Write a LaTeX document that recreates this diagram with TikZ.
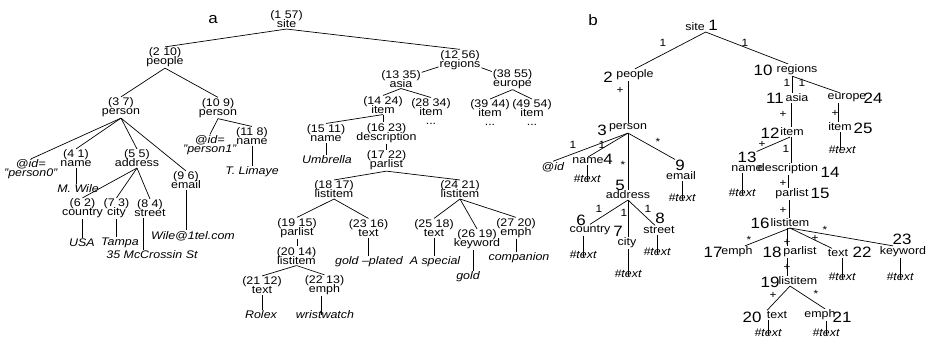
\documentclass[tikz,border=0pt]{standalone}
\usepackage{fontspec}
\setmainfont{Liberation Sans}[FakeStretch=1.13]
\lineskiplimit=-100pt
\begin{document}
\begin{tikzpicture}[x=1pt,y=-1pt]
\tikzset{
  tn/.style={align=center, inner sep=0.8pt, font=\fontsize{11}{9}\selectfont},
  val/.style={inner sep=0.8pt, font=\fontsize{11}{9}\selectfont\itshape},
  tag/.style={inner sep=0.8pt, font=\fontsize{11}{10}\selectfont},
  bignum/.style={inner sep=0pt, font=\fontsize{15}{15}\selectfont},
  elab/.style={inner sep=0pt, font=\fontsize{10.5}{10}\selectfont},
  panel/.style={inner sep=0pt, font=\fontsize{15}{15}\selectfont},
  link/.style={draw, line width=0.7pt, black}
}
\useasboundingbox (0,0) rectangle (931,338);

% ---------------- panel a: numbered document tree ----------------
\node[panel] (pa) at (213,20) {a};

\node[tn] (a1)  at (286.5,19.5) {(1 57)\\site};
\node[tn] (a2)  at (165,57.5)   {(2 10)\\people};
\node[tn] (a12) at (460,60)     {(12 56)\\regions};
\node[tn] (a3)  at (121,107.5)  {(3 7)\\person};
\node[tn] (a10) at (218,108)    {(10 9)\\person};
\node[tn] (aid0) at (31,169.5)  {@\textit{id}=\\\textit{"person0"}};
\node[tn] (a4)  at (76,158.5)   {(4 1)\\name};
\node[tn] (a5)  at (137,158.5)  {(5 5)\\address};
\node[tn] (a9)  at (186,180.5)  {(9 6)\\email};
\node[val] (vwile) at (78,189)  {M. Wile};
\node[tn] (a6)  at (82.5,208.5) {(6 2)\\country};
\node[tn] (a7)  at (116.5,208.5){(7 3)\\city};
\node[tn] (a8)  at (150,208.5)  {(8 4)\\street};
\node[val] (vusa)    at (82,243)  {USA};
\node[val] (vtampa)  at (120,243) {Tampa};
\node[val] (vstreet) at (152,255) {35 McCrossin St};
\node[val] (vmail)   at (193,236) {Wile@1tel.com};
\node[tn] (aid1) at (210,145)   {@\textit{id}=\\\textit{"person1"}};
\node[tn] (a11) at (252,136)    {(11 8)\\name};
\node[val] (vlimaye) at (252,172) {T. Limaye};

\node[tn] (a13) at (401,79)     {(13 35)\\asia};
\node[tn] (a38) at (512.5,79)   {(38 55)\\europe};
\node[tn] (a14) at (383,105)    {(14 24)\\item};
\node[tn] (a28) at (431,111.5)  {(28 34)\\item\\...};
\node[tn] (a39) at (490,113)    {(39 44)\\item\\...};
\node[tn] (a49) at (532,113)    {(49 54)\\item\\...};
\node[tn] (a15) at (326,133)    {(15 11)\\name};
\node[tn] (a16) at (386.5,133)  {(16 23)\\description};
\node[val] (vumb) at (327,160)  {Umbrella};
\node[tn] (a17) at (386.5,160.5){(17 22)\\parlist};
\node[tn] (a18) at (334,189.5)  {(18 17)\\listitem};
\node[tn] (a24) at (460,189.5)  {(24 21)\\listitem};
\node[tn] (a19) at (297,228)    {(19 15)\\parlist};
\node[tn] (a23) at (368.5,228)  {(23 16)\\text};
\node[val] (vgp) at (369,262)   {gold –plated};
\node[tn] (a20) at (296.5,256)  {(20 14)\\listitem};
\node[tn] (a21) at (262,285.5)  {(21 12)\\text};
\node[tn] (a22) at (324.5,285.5){(22 13)\\emph};
\node[val] (vrolex) at (261,315){Rolex};
\node[val] (vwrist) at (325,315){wristwatch};
\node[tn] (a25) at (434,228)    {(25 18)\\text};
\node[tn] (a26) at (477,239.5)  {(26 19)\\keyword};
\node[tn] (a27) at (516,228)    {(27 20)\\emph};
\node[val] (vspecial) at (435,262) {A special};
\node[val] (vgold)    at (468,277) {gold};
\node[val] (vcomp)    at (519,258) {companion};

\draw[link] (a1.south) -- (a2.north);
\draw[link] (a1.south) -- (a12.north);
\draw[link] (a2.south) -- (a3.north);
\draw[link] (a2.south) -- (a10.north);
\draw[link] (a3.south) -- (aid0.north);
\draw[link] (a3.south) -- (a4.north);
\draw[link] (a3.south) -- (a5.north);
\draw[link] (a3.south) -- (a9.north);
\draw[link] (a4.south) -- (a4.south |- vwile.north);
\draw[link] (a5.south) -- (a6.north);
\draw[link] (a5.south) -- (a7.north);
\draw[link] (a5.south) -- (a8.north);
\draw[link] (a6.south) -- (a6.south |- vusa.north);
\draw[link] (a7.south) -- (a7.south |- vtampa.north);
\draw[link] ([xshift=-7pt]a8.south) -- ([xshift=-7pt]a8.south |- vstreet.north);
\draw[link] (a9.south) -- (a9.south |- vmail.north);
\draw[link] (a10.south) -- (aid1.north);
\draw[link] (a10.south) -- (a11.north);
\draw[link] (a11.south) -- (a11.south |- vlimaye.north);

\draw[link] (a12) -- (a13);
\draw[link] (a12) -- (a38);
\draw[link] (a13.south) -- (a14.north);
\draw[link] (a13.south) -- (a28.north);
\draw[link] (a38.south) -- (a39.north);
\draw[link] (a38.south) -- (a49.north);
\draw[link] (a14.south) -- (a15.north);
\draw[link] (a14.south) -- (a14.south |- a16.north);
\draw[link] (a15.south) -- (a15.south |- vumb.north);
\draw[link] (a16.south) -- (a16.south |- a17.north);
\draw[link] (a17.south) -- (a18.north);
\draw[link] (a17.south) -- (a24.north);
\draw[link] (a18.south) -- (a19.north);
\draw[link] (a18.south) -- (a23.north);
\draw[link] (a19.south) -- (a19.south |- a20.north);
\draw[link] (a20.south) -- (a21.north);
\draw[link] (a20.south) -- (a22.north);
\draw[link] (a21.south) -- (a21.south |- vrolex.north);
\draw[link] ([xshift=-3pt]a22.south) -- ([xshift=-3pt]a22.south |- vwrist.center);
\draw[link] (a23.south) -- (a23.south |- vgp.north);
\draw[link] (a24.south) -- (a25.north);
\draw[link] (a24.south) -- (a26.north);
\draw[link] (a24.south) -- (a27.north);
\draw[link] (a25.south) -- (a25.south |- vspecial.north);
\draw[link] ([xshift=-4pt]a26.south) -- ([xshift=-4pt]a26.south |- vgold.north);
\draw[link] (a27.south) -- (a27.south |- vcomp.north);

% ---------------- panel b: schema graph with cardinalities ----------------
\node[panel] (pb) at (593,20) {b};

\node[tag] (bsite)    at (695,27)  {site};
\node[tag] (bpeople)  at (635,75)  {people};
\node[tag] (bperson)  at (628,128) {person};
\node[tag] (bid)      at (553,167) {\textit{@id}};
\node[tag] (bname4)   at (588,161) {name};
\node[tag] (bemail)   at (681,176) {email};
\node[tag] (baddr)    at (628,195) {address};
\node[tag] (bcountry) at (590,230) {country};
\node[tag] (bcity)    at (627,243) {city};
\node[tag] (bstreet)  at (659,230) {street};
\node[tag] (bregions) at (797,70)  {regions};
\node[tag] (basia)    at (797,98)  {asia};
\node[tag] (beurope)  at (847,98)  {europe};
\node[tag] (bitemb)   at (840,127) {item};
\node[tag] (bitema)   at (792,132) {item};
\node[tag] (bname13)  at (747,169) {name};
\node[tag] (bdesc)    at (788,169) {description};
\node[tag] (bpar15)   at (792,194) {parlist};
\node[tag] (bli16)    at (790,223) {listitem};
\node[tag] (bemph17)  at (737,252) {emph};
\node[tag] (bpar18)   at (800,252) {parlist};
\node[tag] (btext22)  at (838,253) {text};
\node[tag] (bkey)     at (903,252) {keyword};
\node[tag] (bli19)    at (798,281) {listitem};
\node[tag] (btext20)  at (777,315) {text};
\node[tag] (bemph21)  at (820,315) {emph};

\node[bignum] (n1)  at (713,25)  {1};
\node[bignum] (n2)  at (608,77)  {2};
\node[bignum] (n3)  at (602,130) {3};
\node[bignum] (n4)  at (608,159) {4};
\node[bignum] (n5)  at (620,185) {5};
\node[bignum] (n6)  at (581,220) {6};
\node[bignum] (n7)  at (618,231) {7};
\node[bignum] (n8)  at (660,218) {8};
\node[bignum] (n9)  at (680,165) {9};
\node[bignum] (n10) at (763,70)  {10};
\node[bignum] (n11) at (775,98)  {11};
\node[bignum] (n12) at (770,133) {12};
\node[bignum] (n13) at (747,157) {13};
\node[bignum] (n14) at (830,172) {14};
\node[bignum] (n15) at (820,193) {15};
\node[bignum] (n16) at (760,223) {16};
\node[bignum] (n17) at (713,252) {17};
\node[bignum] (n18) at (772,252) {18};
\node[bignum] (n19) at (770,282) {19};
\node[bignum] (n20) at (752,317) {20};
\node[bignum] (n21) at (842,317) {21};
\node[bignum] (n22) at (862,252) {22};
\node[bignum] (n23) at (902,239) {23};
\node[bignum] (n24) at (873,98)  {24};
\node[bignum] (n25) at (863,128) {25};

\node[val] (t4)  at (587,179) {\#text};
\node[val] (t9)  at (682,198) {\#text};
\node[val] (t6)  at (583,255) {\#text};
\node[val] (t7)  at (628,274) {\#text};
\node[val] (t8)  at (657,252) {\#text};
\node[val] (t25) at (842,150) {\#text};
\node[val] (t13) at (742,193) {\#text};
\node[val] (t22) at (842,277) {\#text};
\node[val] (t23) at (900,277) {\#text};
\node[val] (t20) at (768,333) {\#text};
\node[val] (t21) at (826,333) {\#text};

\draw[link] (bsite.south east) -- (bpeople.north);
\draw[link] (bsite.south east) -- ([xshift=-9pt]bregions.north);
\draw[link] (bperson.north |- bpeople.south) -- (bperson.north);
\draw[link] (bperson.south) -- (bid.north);
\draw[link] (bperson.south) -- (bname4.north);
\draw[link] (bperson.south) -- (bperson.south |- baddr.north);
\draw[link] (bperson.south) -- (n9.north west);
\draw[link] (baddr.south) -- (bcountry.north);
\draw[link] (baddr.south) -- (baddr.south |- bcity.north);
\draw[link] (baddr.south) -- ([xshift=-4pt]bstreet.north);
\draw[link] ([xshift=-5pt]bregions.south) -- ([xshift=-5pt]bregions.south |- basia.north);
\draw[link] ([xshift=-5pt]bregions.south) -- ([xshift=-7pt]beurope.north);
\draw[link] ([xshift=-6pt]basia.south) -- ([xshift=-6pt]basia.south |- bitema.north);
\draw[link] ([xshift=-9pt]beurope.south) -- ([xshift=-9pt]beurope.south |- bitemb.north);
\draw[link] ([xshift=-2pt]bitema.south) -- (n13.north east);
\draw[link] ([xshift=-1pt]bitema.south) -- ([xshift=-1pt]bitema.south |- bdesc.north);
\draw[link] (bdesc.south) -- (bdesc.south |- bpar15.north);
\draw[link] ([xshift=-3pt]bpar15.south) -- ([xshift=-3pt]bpar15.south |- bli16.north);
\draw[link] (bli16.south) -- ([xshift=8pt]bemph17.north);
\draw[link] ([xshift=-3pt]bli16.south) -- ([xshift=-3pt]bli16.south |- bpar18.north);
\draw[link] (bli16.south) -- ([xshift=-6pt]btext22.north);
\draw[link] (bli16.south) -- ([xshift=-10pt]bkey.north);
\draw[link] ([xshift=-13pt]bpar18.south) -- ([xshift=-13pt]bpar18.south |- bli19.north);
\draw[link] ([xshift=-8pt]bli19.south) -- ([xshift=-10pt]btext20.north);
\draw[link] ([xshift=-8pt]bli19.south) -- ([xshift=5pt]bemph21.north);

\draw[link] (t4.center |- bname4.south)   -- ([yshift=-2pt]t4.center);
\draw[link] (t9.center |- bemail.south)   -- ([yshift=-2pt]t9.center);
\draw[link] (t6.center |- bcountry.south) -- ([yshift=-2pt]t6.center);
\draw[link] (t7.center |- bcity.south)    -- ([yshift=-2pt]t7.center);
\draw[link] (t8.center |- bstreet.south)  -- ([yshift=-2pt]t8.center);
\draw[link] (bitemb.south) -- (bitemb.south |- t25.center);
\draw[link] (t13.center |- bname13.south) -- ([yshift=-2pt]t13.center);
\draw[link] (t22.center |- btext22.south) -- ([yshift=-2pt]t22.center);
\draw[link] (t23.center |- bkey.south)    -- ([yshift=-2pt]t23.center);
\draw[link] (t20.center |- btext20.south) -- ([yshift=-2pt]t20.center);
\draw[link] (t21.center |- bemph21.south) -- ([yshift=-2pt]t21.center);

% cardinality marks on the schema edges
\node[elab] (e1)  at (663,43)  {1};
\node[elab] (e2)  at (745,43)  {1};
\node[elab] (e3)  at (620,90)  {+};
\node[elab] (e4)  at (573,145) {1};
\node[elab] (e5)  at (602,145) {1};
\node[elab] (e6)  at (623,165) {*};
\node[elab] (e7)  at (658,142) {*};
\node[elab] (e8)  at (599,209) {1};
\node[elab] (e9)  at (624,213) {1};
\node[elab] (e10) at (648,209) {1};
\node[elab] (e11) at (787,83)  {1};
\node[elab] (e12) at (802,83)  {1};
\node[elab] (e13) at (783,114) {+};
\node[elab] (e14) at (835,113) {+};
\node[elab] (e15) at (762,144) {+};
\node[elab] (e16) at (786,149) {1};
\node[elab] (e17) at (783,183) {+};
\node[elab] (e18) at (783,210) {+};
\node[elab] (e19) at (749,240) {*};
\node[elab] (e20) at (787,242) {+};
\node[elab] (e21) at (815,238) {+};
\node[elab] (e22) at (825,230) {*};
\node[elab] (e23) at (787,267) {+};
\node[elab] (e24) at (773,295) {+};
\node[elab] (e25) at (816,294) {*};
\end{tikzpicture}
\end{document}
